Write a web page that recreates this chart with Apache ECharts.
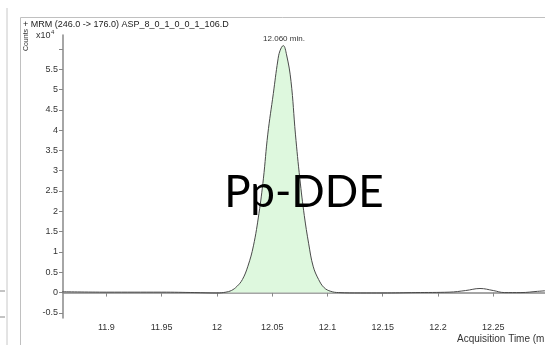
<!DOCTYPE html>
<html>
<head>
<meta charset="utf-8">
<script src="https://cdn.jsdelivr.net/npm/echarts@6/dist/echarts.min.js"></script>
<style>
  html, body { margin: 0; padding: 0; background: #fff; }
  #chart { width: 545px; height: 345px; }
</style>
</head>
<body>
<div id="chart"></div>
<script>
// acquisition time (min) and counts (x10^4)
const times = [
  11.86, 11.90, 11.95, 11.98, 12.000, 12.008, 12.013, 12.018, 12.023, 12.028,
  12.033, 12.038, 12.042, 12.046, 12.051, 12.055, 12.057, 12.060, 12.063, 12.067,
  12.071, 12.075, 12.079, 12.083, 12.087, 12.092, 12.097, 12.103, 12.110, 12.130,
  12.150, 12.180, 12.210, 12.225, 12.238, 12.250, 12.260, 12.275, 12.290, 12.300
];
const counts = [
  0.02, 0.01, 0.01, 0.0, -0.01, 0.01, 0.05, 0.15, 0.32, 0.65,
  1.15, 1.95, 2.8, 3.9, 4.9, 5.7, 5.95, 6.08, 5.85, 5.2,
  3.9, 2.8, 1.9, 1.2, 0.65, 0.32, 0.12, 0.03, 0.0, -0.01,
  -0.01, 0.0, 0.01, 0.05, 0.1, 0.05, 0.0, 0.0, 0.03, 0.05
];
const peakStart = 12.008;
const peakEnd = 12.110;
const yTicks = [-0.5, 0, 0.5, 1, 1.5, 2, 2.5, 3, 3.5, 4, 4.5, 5, 5.5, 6];
const xTicks = [11.9, 11.95, 12, 12.05, 12.1, 12.15, 12.2, 12.25];

const trace = times.map((t, i) => [t, counts[i]]);
const peak = trace.filter(p => p[0] >= peakStart && p[0] <= peakEnd);

const chart = echarts.init(document.getElementById('chart'));
const small = { fontFamily: 'Liberation Sans', fontSize: 9, color: '#333' };

chart.setOption({
  animation: false,
  grid: { left: 63, right: 0, top: 35, bottom: 27 },
  xAxis: {
    type: 'value', min: 11.8607, max: 12.2968,
    axisLine: { lineStyle: { color: '#888', width: 1.5 } },
    axisTick: { customValues: xTicks, length: 4, lineStyle: { color: '#888' } },
    axisLabel: { customValues: xTicks, ...small, margin: 5, formatter: v => String(v) },
    splitLine: { show: false }
  },
  yAxis: {
    type: 'value', min: -0.626, max: 6.34,
    axisLine: { show: true, lineStyle: { color: '#888', width: 1.5 } },
    axisTick: { show: true, customValues: yTicks, length: 4, lineStyle: { color: '#888' } },
    axisLabel: { customValues: yTicks, ...small, margin: 5, formatter: v => (v === 6 ? '' : String(v)) },
    splitLine: { show: false }
  },
  series: [
    {
      type: 'line', data: peak, smooth: 0.4, symbol: 'none',
      lineStyle: { width: 0 },
      areaStyle: { color: '#def8de', opacity: 1 },
      z: 1
    },
    {
      type: 'line', data: trace, smooth: 0.4, symbol: 'none',
      lineStyle: { color: '#4a4a4a', width: 1 },
      z: 2
    }
  ],
  graphic: [
    // neighbouring panel remnants at the far left
    { type: 'line', shape: { x1: 7, y1: 8, x2: 7, y2: 345 }, style: { stroke: '#c8c8c8', lineWidth: 1 } },
    { type: 'line', shape: { x1: 0, y1: 291, x2: 5, y2: 291 }, style: { stroke: '#888', lineWidth: 1 } },
    { type: 'line', shape: { x1: 0, y1: 317, x2: 5, y2: 317 }, style: { stroke: '#888', lineWidth: 1 } },
    { type: 'text', left: -3, top: 333, style: { text: ')', font: '9px Liberation Sans', fill: '#333' } },
    // panel frame
    { type: 'line', shape: { x1: 20.5, y1: 17.5, x2: 545, y2: 17.5 }, style: { stroke: '#c0c0c0', lineWidth: 1 } },
    { type: 'line', shape: { x1: 20.5, y1: 17.5, x2: 20.5, y2: 345 }, style: { stroke: '#c0c0c0', lineWidth: 1 } },
    // texts
    { type: 'text', left: 23, top: 20, style: { text: '+ MRM (246.0 -> 176.0) ASP_8_0_1_0_0_1_106.D', font: '9px Liberation Sans', fill: '#222' } },
    { type: 'text', x: 26, y: 40, rotation: Math.PI / 2, style: { text: 'Counts', font: '7px Liberation Sans', fill: '#333', align: 'center', verticalAlign: 'middle' } },
    { type: 'text', left: 36, top: 31, style: { text: 'x10', font: '9px Liberation Sans', fill: '#333' } },
    { type: 'text', left: 51, top: 29, style: { text: '4', font: '6px Liberation Sans', fill: '#333' } },
    { type: 'text', x: 284, y: 39, style: { text: '12.060 min.', font: '8px Liberation Sans', fill: '#333', align: 'center', verticalAlign: 'middle' } },
    { type: 'text', left: 457, top: 334, style: { text: 'Acquisition Time (min.)', font: '10px Liberation Sans', fill: '#333' } },
    { type: 'text', x: 304, y: 171, z: 100, style: { text: 'Pp-DDE', font: '44px Lato', fill: '#000', align: 'center', verticalAlign: 'top' } }
  ]
});
</script>
</body>
</html>
